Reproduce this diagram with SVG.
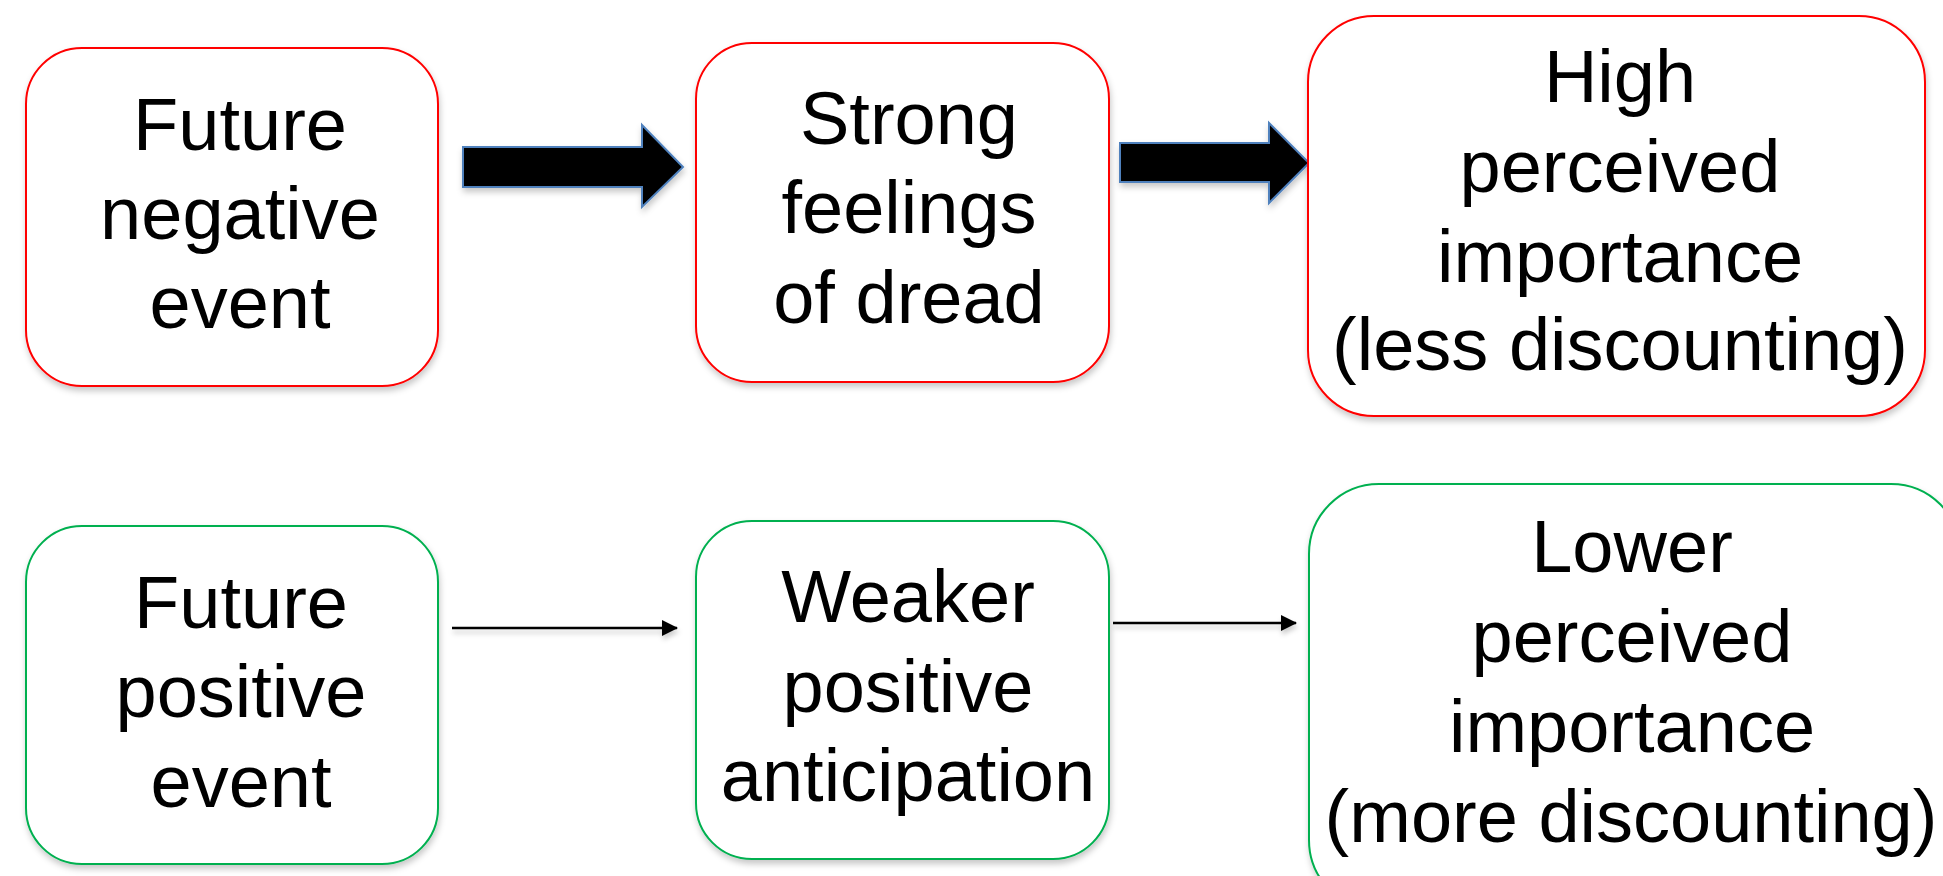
<svg xmlns="http://www.w3.org/2000/svg" width="1943" height="876" viewBox="0 0 1943 876">
<defs>
<filter id="sh" x="-10%" y="-10%" width="120%" height="130%">
<feDropShadow dx="1" dy="4" stdDeviation="3" flood-color="#000" flood-opacity="0.22"/>
</filter>
<filter id="shl" filterUnits="userSpaceOnUse" x="0" y="0" width="1943" height="876">
<feDropShadow dx="1" dy="4" stdDeviation="2.5" flood-color="#000" flood-opacity="0.2"/>
</filter>
<marker id="ah" markerUnits="userSpaceOnUse" markerWidth="16" markerHeight="18" refX="15" refY="8" orient="auto">
<path d="M0,0 L16,8 L0,16 Z" fill="#000"/>
</marker>
<style>
.neg{fill:#fff;stroke:#ff0000;stroke-width:2;filter:url(#sh)}
.pos{fill:#fff;stroke:#00b050;stroke-width:2;filter:url(#sh)}
.t{font-family:"Liberation Sans",Arial,sans-serif;font-size:74px;fill:#000;text-anchor:middle}
.big{fill:#000;stroke:#4f81bd;stroke-width:2;filter:url(#sh)}
.thin{stroke:#000;stroke-width:2.5;fill:none;marker-end:url(#ah)}
</style>
</defs>
<rect width="1943" height="876" fill="#fff"/>
<g id="connectors">
<polygon class="big" points="463,147 642,147 642,125 683,167 642,207 642,187 463,187"/>
<polygon class="big" points="1120,143 1269,143 1269,123 1309,163 1269,203 1269,182 1120,182"/>
<g filter="url(#shl)">
<line class="thin" x1="452" y1="628" x2="677" y2="628"/>
<line class="thin" x1="1113" y1="623" x2="1296" y2="623"/>
</g>
</g>
<g id="n1">
<rect class="neg" x="26" y="48" width="412" height="338" rx="56" ry="56"/>
<text class="t" x="240" y="150">Future</text>
<text class="t" x="240" y="239">negative</text>
<text class="t" x="240" y="328">event</text>
</g>
<g id="n2">
<rect class="neg" x="696" y="43" width="413" height="339" rx="56" ry="56"/>
<text class="t" x="909" y="144">Strong</text>
<text class="t" x="909" y="233">feelings</text>
<text class="t" x="909" y="323">of dread</text>
</g>
<g id="n3">
<rect class="neg" x="1308" y="16" width="617" height="400" rx="66" ry="66"/>
<text class="t" x="1620" y="102">High</text>
<text class="t" x="1620" y="192">perceived</text>
<text class="t" x="1620" y="282">importance</text>
<text class="t" x="1620" y="370">(less discounting)</text>
</g>
<g id="n4">
<rect class="pos" x="26" y="526" width="412" height="338" rx="56" ry="56"/>
<text class="t" x="241" y="628">Future</text>
<text class="t" x="241" y="717">positive</text>
<text class="t" x="241" y="807">event</text>
</g>
<g id="n5">
<rect class="pos" x="696" y="521" width="413" height="338" rx="56" ry="56"/>
<text class="t" x="908" y="622">Weaker</text>
<text class="t" x="908" y="712">positive</text>
<text class="t" x="908" y="801">anticipation</text>
</g>
<g id="n6">
<rect class="pos" x="1309" y="484" width="652" height="426" rx="70" ry="70"/>
<text class="t" x="1632" y="572">Lower</text>
<text class="t" x="1632" y="662">perceived</text>
<text class="t" x="1632" y="752">importance</text>
<text class="t" x="1631" y="842">(more discounting)</text>
</g>
</svg>
